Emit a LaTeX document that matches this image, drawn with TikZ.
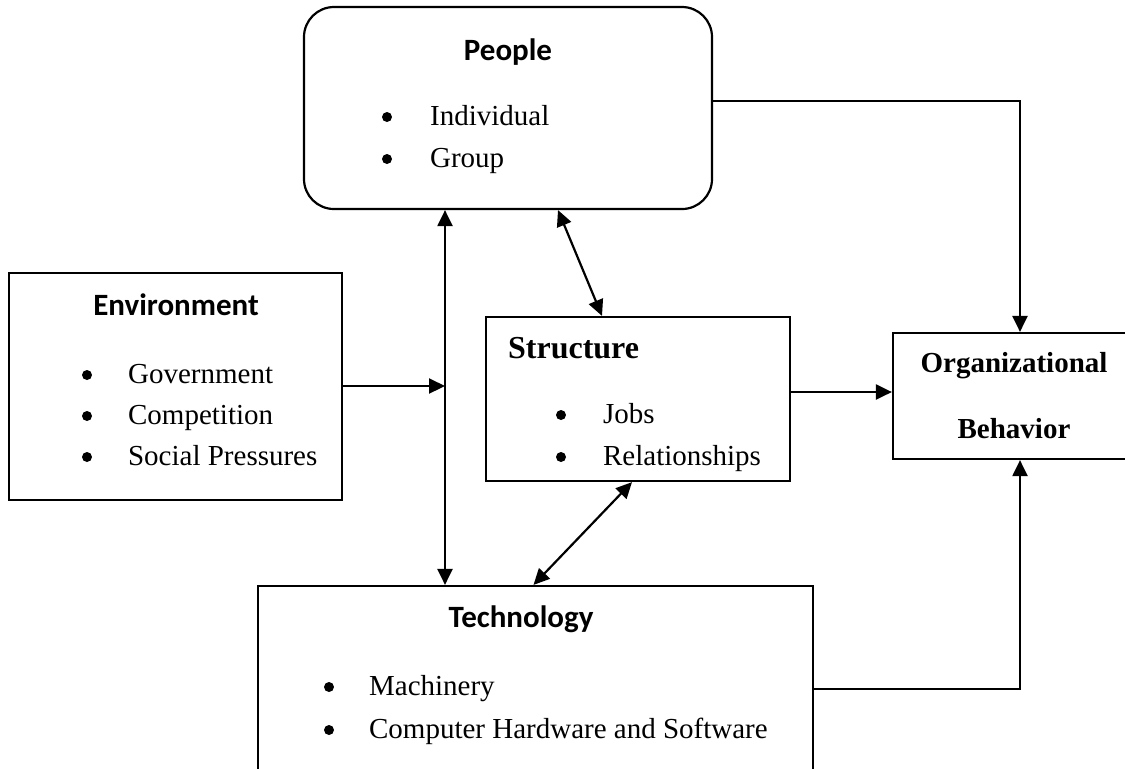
\documentclass[tikz,border=0pt]{standalone}
\usepackage{fontspec}
\setmainfont{Liberation Serif}
\newfontfamily\calfont{Carlito}
\usetikzlibrary{arrows.meta,calc}
\begin{document}
\begin{tikzpicture}[x=0.5pt,y=-0.5pt,line width=1.1pt,
  >={Triangle[length=8pt,width=7.5pt]},
  box/.style={draw,rectangle,inner sep=0pt},
  head/.style={font=\calfont\bfseries\fontsize{15.5}{18}\selectfont},
  bhead/.style={font=\bfseries\fontsize{16}{19}\selectfont},
  item/.style={font=\fontsize{14.5}{17}\selectfont,anchor=base west,inner sep=0pt},
  dot/.style={circle,fill,inner sep=0pt,minimum size=5pt}]
\useasboundingbox (0,0) rectangle (1125,768);
\clip (0,0) rectangle (1125,768);
% boxes
\node[box,rounded corners=15pt,minimum width=204pt,minimum height=101pt] (people) at (508,108) {};
\node[box,minimum width=166.5pt,minimum height=113.5pt] (env) at (175.5,386.5) {};
\node[box,minimum width=152pt,minimum height=82pt] (struct) at (638,399) {};
\node[box,minimum width=123.5pt,minimum height=63pt] (orgb) at (1016.5,396) {};
\node[box,minimum width=277.5pt,minimum height=107pt] (tech) at (535.5,693) {};
% titles
\node[head,anchor=base] (tpeople) at (508,60) {People};
\node[head,anchor=base] (tenv) at (176,315) {Environment};
\node[bhead,anchor=base west,inner sep=0pt] (tstruct) at (507,358) {Structure};
\node[head,anchor=base] (ttech) at (521,627) {Technology};
\node[bhead,font=\bfseries\fontsize{14.5}{17}\selectfont,anchor=base] (torg1) at (1014,372) {Organizational};
\node[bhead,font=\bfseries\fontsize{14.5}{17}\selectfont,anchor=base] (torg2) at (1014,438) {Behavior};
% bullet lists
\foreach \y/\t in {125/Individual,167/Group} {
  \node[dot] at (387,\y-8) {};
  \node[item] at (429,\y) {\t};
}
\foreach \y/\t in {383/Government,424/Competition,465/Social Pressures} {
  \node[dot] at (87,\y-8) {};
  \node[item] at (127,\y) {\t};
}
\foreach \y/\t in {423/Jobs,465/Relationships} {
  \node[dot] at (561,\y-8) {};
  \node[item] at (602,\y) {\t};
}
\foreach \y/\t in {695/Machinery,738/Computer Hardware and Software} {
  \node[dot] at (329,\y-8) {};
  \node[item] at (368,\y) {\t};
}
% connectors
\coordinate (jn) at (445,386);
\coordinate (pk) at (1020,101);
\coordinate (tk) at (1020,689);
\draw[<->] (people.south -| jn) -- (tech.north -| jn);
\draw[->] (env.east |- jn) -- (jn);
\draw[<->] ($(people.south)+(50,0)$) -- ($(struct.north)+(-36,0)$);
\draw[<->] ($(struct.south)+(-6,0)$) -- ($(tech.north)+(-2,0)$);
\draw[->] ([yshift=3.5pt]struct.east) -- ([yshift=3.5pt]struct.east -| orgb.west);
\draw[->] (people.east |- pk) -- (pk) -- (pk |- orgb.north);
\draw[->] (tech.east |- tk) -- (tk) -- (tk |- orgb.south);
\end{tikzpicture}
\end{document}
